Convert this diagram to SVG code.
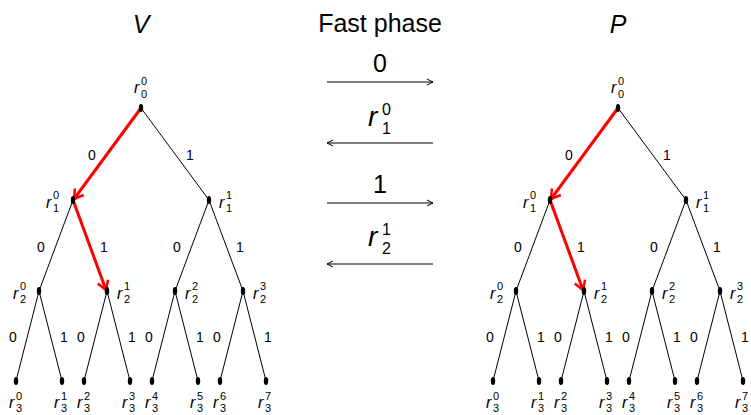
<svg xmlns="http://www.w3.org/2000/svg" width="751" height="415" viewBox="0 0 751 415">
<style>
.t{font-family:"Liberation Sans","DejaVu Sans",sans-serif;fill:#000}
.it{font-style:italic}
.e{stroke:#000;stroke-width:1;fill:none}
.red{stroke:#f00;stroke-width:3;fill:none}
.lab{font-family:"Liberation Sans","DejaVu Sans",sans-serif;font-size:14px;text-anchor:middle}
.r{font-family:"Liberation Sans","DejaVu Sans",sans-serif;font-size:16px;font-style:italic}
.ix{font-family:"Liberation Sans","DejaVu Sans",sans-serif;font-size:11px}
.mr{font-family:"Liberation Sans","DejaVu Sans",sans-serif;font-size:28px;font-style:italic}
.mix{font-family:"Liberation Sans","DejaVu Sans",sans-serif;font-size:16px}
.arr{stroke:#000;stroke-width:1;fill:none}
</style>
<defs>
<marker id="ah" markerWidth="8" markerHeight="8" refX="7" refY="4" orient="auto" markerUnits="userSpaceOnUse">
<path d="M1,1 L7,4 L1,7" stroke="#000" fill="none" stroke-width="1"/>
</marker>
<marker id="rh" markerWidth="14" markerHeight="14" refX="12" refY="7" orient="auto" markerUnits="userSpaceOnUse">
<path d="M3,1.5 L12,7 L3,12.5" stroke="#f00" fill="none" stroke-width="2.5"/>
</marker>
<g id="tree">
<g class="edges">
<path class="e" d="M141,108 L209,200 M73,200 L39,291 M209,200 L175,291 M209,200 L243,291 M39,291 L16,381 M39,291 L62,381 M107,291 L84,381 M107,291 L130,381 M175,291 L152,381 M175,291 L198,381 M243,291 L220,381 M243,291 L266,381"/>
<path class="red" d="M141,108 L74,199" marker-end="url(#rh)"/>
<path class="red" d="M73,200 L106,290" marker-end="url(#rh)"/>
</g>
<g class="dots" fill="#000">
<ellipse cx="141" cy="108" rx="2.2" ry="4"/>
<ellipse cx="73" cy="200" rx="2.2" ry="4"/>
<ellipse cx="209" cy="200" rx="2.2" ry="4"/>
<ellipse cx="39" cy="291" rx="2.2" ry="4"/>
<ellipse cx="107" cy="291" rx="2.2" ry="4"/>
<ellipse cx="175" cy="291" rx="2.2" ry="4"/>
<ellipse cx="243" cy="291" rx="2.2" ry="4"/>
<ellipse cx="16" cy="381" rx="2.2" ry="4"/>
<ellipse cx="62" cy="381" rx="2.2" ry="4"/>
<ellipse cx="84" cy="381" rx="2.2" ry="4"/>
<ellipse cx="130" cy="381" rx="2.2" ry="4"/>
<ellipse cx="152" cy="381" rx="2.2" ry="4"/>
<ellipse cx="198" cy="381" rx="2.2" ry="4"/>
<ellipse cx="220" cy="381" rx="2.2" ry="4"/>
<ellipse cx="266" cy="381" rx="2.2" ry="4"/>
</g>
<g class="elabels">
<text class="lab" x="92" y="160">0</text>
<text class="lab" x="190" y="160">1</text>
<text class="lab" x="41" y="252">0</text>
<text class="lab" x="104" y="252">1</text>
<text class="lab" x="177" y="252">0</text>
<text class="lab" x="240" y="252">1</text>
<text class="lab" x="13" y="342">0</text>
<text class="lab" x="64" y="342">1</text>
<text class="lab" x="81" y="342">0</text>
<text class="lab" x="132" y="342">1</text>
<text class="lab" x="149" y="342">0</text>
<text class="lab" x="200" y="342">1</text>
<text class="lab" x="217" y="342">0</text>
<text class="lab" x="268" y="342">1</text>
</g>
<g class="nlabels">
<text class="r" x="134" y="93">r</text><text class="ix" x="141" y="85">0</text><text class="ix" x="141" y="98">0</text>
<text class="r" x="46" y="208">r</text><text class="ix" x="53" y="199">0</text><text class="ix" x="53" y="212">1</text>
<text class="r" x="219" y="208">r</text><text class="ix" x="226" y="199">1</text><text class="ix" x="226" y="212">1</text>
<text class="r" x="13" y="299">r</text><text class="ix" x="20" y="290">0</text><text class="ix" x="20" y="303">2</text>
<text class="r" x="117" y="299">r</text><text class="ix" x="124" y="290">1</text><text class="ix" x="124" y="303">2</text>
<text class="r" x="185" y="299">r</text><text class="ix" x="192" y="290">2</text><text class="ix" x="192" y="303">2</text>
<text class="r" x="253" y="299">r</text><text class="ix" x="260" y="290">3</text><text class="ix" x="260" y="303">2</text>
<text class="r" x="9" y="408">r</text><text class="ix" x="16" y="400">0</text><text class="ix" x="16" y="412">3</text>
<text class="r" x="54" y="408">r</text><text class="ix" x="61" y="400">1</text><text class="ix" x="61" y="412">3</text>
<text class="r" x="77" y="408">r</text><text class="ix" x="84" y="400">2</text><text class="ix" x="84" y="412">3</text>
<text class="r" x="122" y="408">r</text><text class="ix" x="129" y="400">3</text><text class="ix" x="129" y="412">3</text>
<text class="r" x="145" y="408">r</text><text class="ix" x="152" y="400">4</text><text class="ix" x="152" y="412">3</text>
<text class="r" x="190" y="408">r</text><text class="ix" x="197" y="400">5</text><text class="ix" x="197" y="412">3</text>
<text class="r" x="213" y="408">r</text><text class="ix" x="220" y="400">6</text><text class="ix" x="220" y="412">3</text>
<text class="r" x="258" y="408">r</text><text class="ix" x="265" y="400">7</text><text class="ix" x="265" y="412">3</text>
</g>
</g>
</defs>
<g id="V-tree">
<text class="t it" x="141" y="33" font-size="25" text-anchor="middle">V</text>
<use href="#tree"/>
</g>
<g id="P-tree">
<text class="t it" x="618" y="33" font-size="25" text-anchor="middle">P</text>
<use href="#tree" transform="translate(477,0)"/>
</g>
<g id="middle">
<text class="t" x="380" y="32" font-size="25" text-anchor="middle">Fast phase</text>
<text class="t" x="380" y="72" font-size="25" text-anchor="middle">0</text>
<text class="mr" x="368" y="126">r</text><text class="mix" x="382" y="115">0</text><text class="mix" x="382" y="134">1</text>
<text class="t" x="380" y="193" font-size="25" text-anchor="middle">1</text>
<text class="mr" x="368" y="246">r</text><text class="mix" x="382" y="235">1</text><text class="mix" x="382" y="254">2</text>
</g>
<g id="connectors">
<line class="arr" x1="327" y1="82" x2="433" y2="82" stroke="#555" marker-end="url(#ah)"/>
<line class="arr" x1="433" y1="143" x2="327" y2="143" marker-end="url(#ah)"/>
<line class="arr" x1="327" y1="203" x2="433" y2="203" stroke="#555" marker-end="url(#ah)"/>
<line class="arr" x1="433" y1="264" x2="327" y2="264" marker-end="url(#ah)"/>
</g>
</svg>
